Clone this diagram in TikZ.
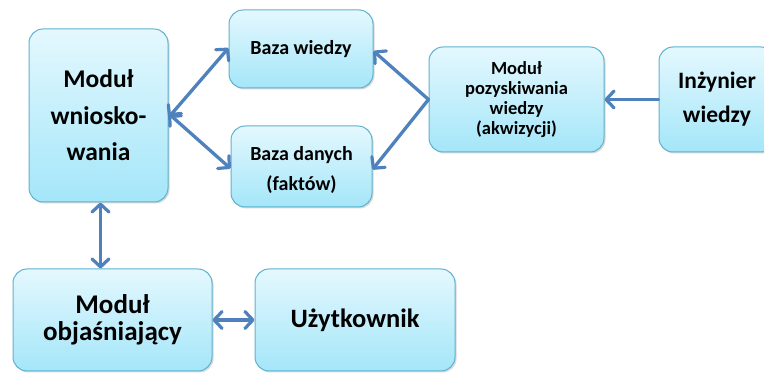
\documentclass[tikz,border=0pt]{standalone}
\usepackage{fontspec}
\setmainfont{Carlito}
\usetikzlibrary{arrows.meta,shadows}
\definecolor{boxtop}{HTML}{E4F8FE}
\definecolor{boxbot}{HTML}{A4E6F9}
\definecolor{boxline}{HTML}{5FB2CF}
\definecolor{arrowblue}{HTML}{4F81BD}
\tikzset{
  blok/.style={rectangle, rounded corners=14pt, draw=boxline, line width=1pt,
    top color=boxtop, bottom color=boxbot, inner sep=0pt, align=center,
    text=black,
    drop shadow={shadow xshift=1.5pt, shadow yshift=-1.5pt, opacity=0.25, fill=black!60}},
  fs/.style 2 args={font=\bfseries\fontsize{#1}{#2}\selectfont},
  >={Straight Barb[length=8pt,width=17pt,line width=3.2pt,round]},
  link/.style={draw=arrowblue, line width=3.3pt, line cap=round, <->},
  onelink/.style={draw=arrowblue, line width=3.3pt, line cap=round, ->}
}
\begin{document}
\begin{tikzpicture}[x=1pt,y=-1pt]
\useasboundingbox (0,0) rectangle (764,374);
% boxes
\node[blok, fs={25.5}{36.5}, minimum width=139pt, minimum height=173pt] (wn) at (98.5,115.5)
  {Moduł\\wniosko-\\wania};
\node[blok, fs={20}{24}, minimum width=144pt, minimum height=78pt] (bw) at (301,49)
  {Baza wiedzy};
\node[blok, fs={20}{30}, minimum width=141pt, minimum height=81pt] (bd) at (301.5,166.5)
  {\rule{0pt}{22pt}Baza danych\\(faktów)};
\node[blok, fs={18.5}{20}, minimum width=175pt, minimum height=105pt] (mp) at (516.5,99.5)
  {Moduł\\pozyskiwania\\wiedzy\\(akwizycji)};
\node[blok, fs={23.5}{34}, minimum width=116pt, minimum height=105pt] (iw) at (717,99.5)
  {Inżynier\\wiedzy};
\node[blok, fs={27}{27}, minimum width=199pt, minimum height=102pt] (mo) at (112.5,320)
  {Moduł\\objaśniający};
\node[blok, fs={26.5}{30}, minimum width=200pt, minimum height=102pt] (uz) at (355,320)
  {Użytkownik};
% connectors
\draw[link] ([yshift=-2pt]wn.east) -- ([yshift=1pt]bw.west);
\draw[link] ([yshift=2pt]wn.east) -- ([yshift=-2pt]bd.west);
\draw[onelink] (mp.west) -- ([yshift=-2pt]bw.east);
\draw[onelink] (mp.west) -- ([yshift=-3pt]bd.east);
\draw[onelink] (iw.west) -- (mp.east);
\draw[link] ([xshift=2pt]wn.south) -- ([xshift=-12pt]mo.north);
\draw[link] (mo.east) -- (uz.west);
\end{tikzpicture}
\end{document}
